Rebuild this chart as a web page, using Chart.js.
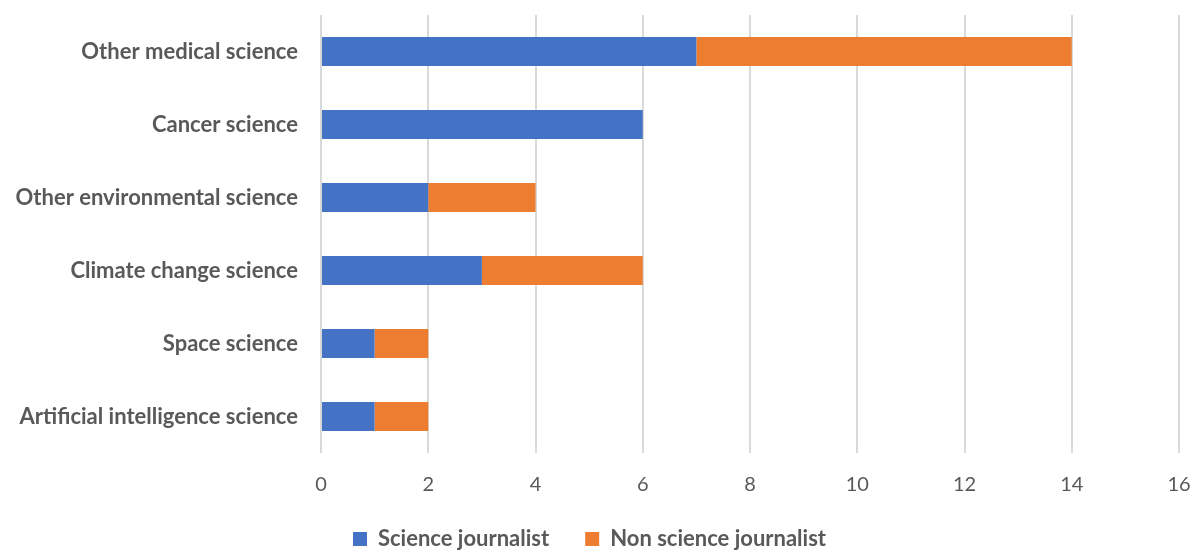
<!DOCTYPE html>
<html>
<head>
<meta charset="utf-8">
<script src="https://cdn.jsdelivr.net/npm/chart.js@4"></script>
<style>
  html, body { margin: 0; padding: 0; background: #fff; }
  #wrap { width: 1200px; height: 550px; }
</style>
</head>
<body>
<div id="wrap"><canvas id="chart"></canvas></div>
<script>
// topics, top to bottom
const topics = [
  "Other medical science",
  "Cancer science",
  "Other environmental science",
  "Climate change science",
  "Space science",
  "Artificial intelligence science",
];
const scienceJournalist = [7, 6, 2, 3, 1, 1];
const nonScienceJournalist = [7, 0, 2, 3, 1, 1];
const xTicks = [0, 2, 4, 6, 8, 10, 12, 14, 16];

const grey = "#595959";
const fontFam = "Lato, 'Open Sans', sans-serif";

new Chart(document.getElementById("chart"), {
  type: "bar",
  data: {
    labels: topics,
    datasets: [
      {
        label: "Science journalist",
        data: scienceJournalist,
        backgroundColor: "#4472c4",
        categoryPercentage: 1,
        barPercentage: 0.4,
      },
      {
        label: "Non science journalist",
        data: nonScienceJournalist,
        backgroundColor: "#ed7d31",
        categoryPercentage: 1,
        barPercentage: 0.4,
      },
    ],
  },
  options: {
    indexAxis: "y",
    responsive: true,
    maintainAspectRatio: false,
    animation: false,
    // negative bottom pushes the legend down towards the canvas edge
    layout: { padding: { left: 0, right: 21, top: 15, bottom: -10 } },
    scales: {
      x: {
        stacked: true,
        min: 0,
        max: 16,
        afterBuildTicks: (scale) => {
          scale.ticks = xTicks.map((v) => ({ value: v }));
        },
        afterFit: (scale) => {
          scale.height = 39;
          scale.paddingLeft = 0;
          scale.paddingRight = 0;
        },
        border: { display: false },
        grid: { color: "#d9d9d9", lineWidth: 2, drawTicks: false },
        ticks: {
          padding: 20,
          color: grey,
          font: { family: fontFam, size: 20 },
        },
      },
      y: {
        stacked: true,
        afterFit: (scale) => {
          scale.width = 321;
          scale.paddingTop = 0;
          scale.paddingBottom = 0;
        },
        border: { display: false },
        grid: { display: false, drawTicks: false },
        ticks: {
          padding: 23,
          color: grey,
          font: { family: fontFam, size: 22, weight: "bold" },
        },
      },
    },
    plugins: {
      legend: {
        position: "bottom",
        labels: {
          color: grey,
          font: { family: fontFam, size: 22, weight: "bold" },
          boxWidth: 14,
          boxHeight: 14,
          padding: 36,
        },
      },
      tooltip: { enabled: false },
    },
  },
});
</script>
</body>
</html>
